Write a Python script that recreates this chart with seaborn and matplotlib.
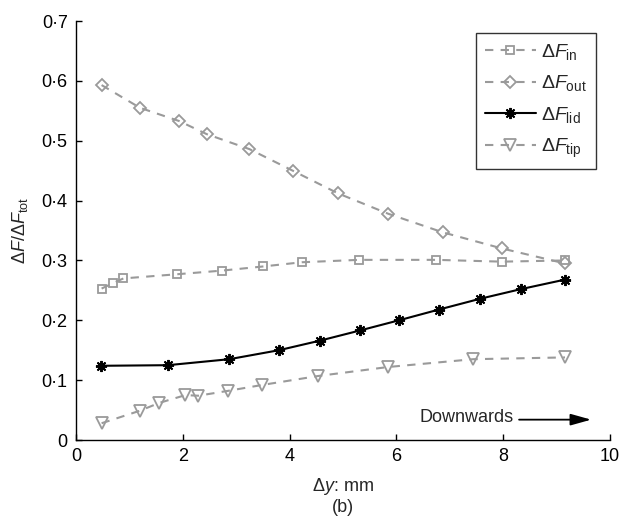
import numpy as np
import pandas as pd
import matplotlib
matplotlib.use("Agg")
import matplotlib.pyplot as plt
import seaborn as sns

sns.set_style("ticks")
plt.rcParams['font.family'] = ['Liberation Sans', 'DejaVu Sans']
plt.rcParams['mathtext.fontset'] = 'custom'
plt.rcParams['mathtext.rm'] = 'Liberation Sans'
plt.rcParams['mathtext.it'] = 'Liberation Sans:italic'
plt.rcParams['mathtext.bf'] = 'Liberation Sans:bold'

# ---- data ----
x_in = [0.48, 0.69, 0.89, 1.90, 2.73, 3.51, 4.23, 5.31, 6.74, 7.98, 9.16]
y_in = [0.253, 0.262, 0.270, 0.277, 0.283, 0.290, 0.297, 0.301, 0.301, 0.298, 0.300]

x_out = [0.48, 1.20, 1.93, 2.45, 3.25, 4.06, 4.91, 5.85, 6.87, 7.98, 9.16]
y_out = [0.593, 0.555, 0.533, 0.511, 0.486, 0.450, 0.412, 0.378, 0.347, 0.320, 0.295]

x_lid = [0.47, 1.72, 2.87, 3.80, 4.57, 5.32, 6.05, 6.80, 7.57, 8.33, 9.16]
y_lid = [0.124, 0.125, 0.135, 0.150, 0.166, 0.183, 0.200, 0.218, 0.236, 0.252, 0.268]

x_tip = [0.48, 1.20, 1.56, 2.05, 2.29, 2.84, 3.49, 4.54, 5.85, 7.44, 9.16]
y_tip = [0.028, 0.049, 0.062, 0.075, 0.074, 0.082, 0.092, 0.107, 0.122, 0.135, 0.138]

x_ticks = [0, 2, 4, 6, 8, 10]
x_ticklabels = ['0', '2', '4', '6', '8', '10']
y_ticks = [0, 0.1, 0.2, 0.3, 0.4, 0.5, 0.6, 0.7]
y_ticklabels = ['0', '0·1', '0·2', '0·3', '0·4', '0·5', '0·6', '0·7']

labels = [r'$\Delta F_{\mathrm{in}}$', r'$\Delta F_{\mathrm{out}}$',
          r'$\Delta F_{\mathrm{lid}}$', r'$\Delta F_{\mathrm{tip}}$']

gray = '#9a9a9a'

fig = plt.figure(figsize=(6.3, 5.25), dpi=100)
ax = fig.add_axes([0.1206, 0.1619, 0.8474, 0.798])

series = [
    (x_in, y_in, dict(color=gray, linestyle=(0, (4, 3.5)), marker='s', markersize=5.8,
                      markerfacecolor='none', markeredgecolor=gray, markeredgewidth=1.3)),
    (x_out, y_out, dict(color=gray, linestyle=(0, (4, 3.5)), marker='D', markersize=6.5,
                        markerfacecolor='none', markeredgecolor=gray, markeredgewidth=1.3)),
    (x_lid, y_lid, dict(color='black', linestyle='-', marker=(8, 2, 0), markersize=8,
                        markerfacecolor='black', markeredgecolor='black', markeredgewidth=1.4)),
    (x_tip, y_tip, dict(color=gray, linestyle=(0, (4, 3.5)), marker='v', markersize=8,
                        markerfacecolor='none', markeredgecolor=gray, markeredgewidth=1.3)),
]

for (xs, ys, kw), lab in zip(series, labels):
    df = pd.DataFrame({'x': xs, 'y': ys})
    sns.lineplot(data=df, x='x', y='y', ax=ax, sort=False, estimator=None,
                 linewidth=1.5, label=lab, **kw)

ax.set_xlim(0, 10)
ax.set_ylim(0, 0.7)
ax.set_xticks(x_ticks)
ax.set_xticklabels(x_ticklabels)
ax.set_yticks(y_ticks)
ax.set_yticklabels(y_ticklabels)
ax.tick_params(direction='in', length=4, width=1, labelsize=13, pad=6, colors='black')
for s in ['top', 'right']:
    ax.spines[s].set_visible(False)
for s in ['left', 'bottom']:
    ax.spines[s].set_linewidth(1.0)
    ax.spines[s].set_color('black')

ax.set_xlabel(r'$\Delta y$: mm', fontsize=13, labelpad=8)
ax.set_ylabel(r'$\Delta F/\Delta F_{\mathrm{tot}}$', fontsize=13, labelpad=8)
fig.text(0.5 * (0.1206 + 0.968), 1 - 508 / 525, '(b)', ha='center', va='center', fontsize=13)

ax.text(8.2, 0.037, 'Downwards', ha='right', va='center', fontsize=13)
ax.annotate('', xy=(9.65, 0.034), xytext=(8.3, 0.034),
            arrowprops=dict(arrowstyle='-|>,head_length=1.25,head_width=0.35',
                            color='black', lw=1.3, shrinkA=0, shrinkB=0))

leg = ax.legend(loc='upper right', bbox_to_anchor=(596 / 630, 1 - 33 / 525),
                bbox_transform=fig.transFigure, fontsize=14, frameon=True,
                fancybox=False, handlelength=2.6, borderpad=0.45, labelspacing=0.6,
                handletextpad=0.3, borderaxespad=0)
leg.get_frame().set_edgecolor('black')
leg.get_frame().set_linewidth(1.0)

fig.savefig('out.png', dpi=100)
